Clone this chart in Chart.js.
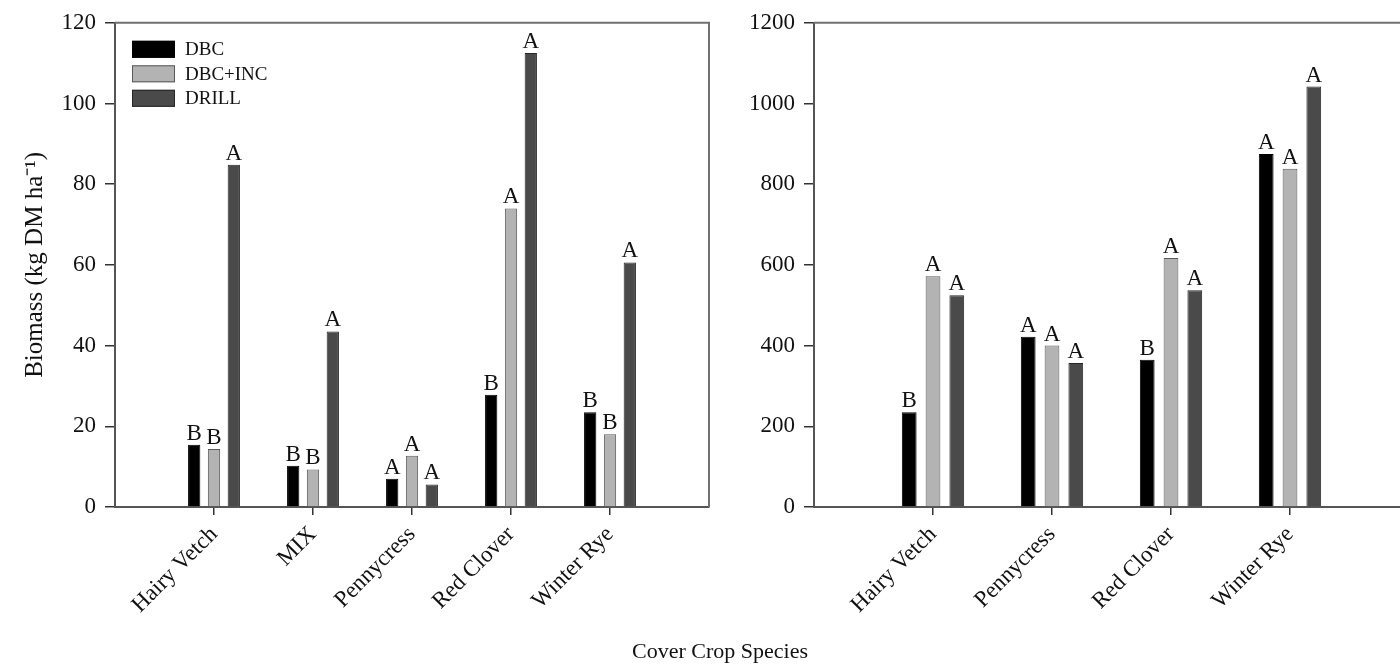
<!DOCTYPE html>
<html>
<head>
<meta charset="utf-8">
<script src="https://cdn.jsdelivr.net/npm/chart.js"></script>
<style>
  body { margin: 0; background: #fff; width: 1400px; height: 668px; overflow: hidden; position: relative; font-family: "Liberation Serif", serif; }
  .box { position: absolute; top: 0; height: 640px; }
  #leftBox { left: 0; width: 740px; }
  #rightBox { left: 740px; width: 669px; }
  #xTitle { position: absolute; left: 0; width: 1440px; top: 638px; text-align: center; font-size: 22px; color: #111; }
</style>
</head>
<body>
<div id="leftBox" class="box"><canvas id="leftChart"></canvas></div>
<div id="rightBox" class="box"><canvas id="rightChart"></canvas></div>
<div id="xTitle">Cover Crop Species</div>
<script>
// categories
const leftSpecies = ['Hairy Vetch', 'MIX', 'Pennycress', 'Red Clover', 'Winter Rye'];
const rightSpecies = ['Hairy Vetch', 'Pennycress', 'Red Clover', 'Winter Rye'];
const methods = ['DBC', 'DBC+INC', 'DRILL'];

// left panel values
const leftDBC = [15.4, 10.2, 7.0, 27.8, 23.5];
const leftDBCINC = [14.4, 9.3, 12.7, 74, 18.0];
const leftDRILL = [84.8, 43.5, 5.6, 112.5, 60.6];
const leftLetters = [
  ['B', 'B', 'A', 'B', 'B'],
  ['B', 'B', 'A', 'A', 'B'],
  ['A', 'A', 'A', 'A', 'A']
];

// right panel values
const rightDBC = [235, 422, 365, 875];
const rightDBCINC = [572, 400, 617, 838];
const rightDRILL = [525, 357, 537, 1042];
const rightLetters = [
  ['B', 'A', 'B', 'A'],
  ['A', 'A', 'A', 'A'],
  ['A', 'A', 'A', 'A']
];

const leftTicks = [0, 20, 40, 60, 80, 100, 120];
const rightTicks = [0, 200, 400, 600, 800, 1000, 1200];

const FONT = '"Liberation Serif", "Times New Roman", serif';
const fills = ['#000000', '#b3b3b3', '#4a4a4a'];
const edges = ['#000000', '#5a5a5a', '#262626'];

function pts(vals) {
  return vals.map((v, i) => ({ x: i, y: v }));
}

function makeDatasets(series) {
  return series.map((vals, k) => ({
    label: methods[k],
    data: pts(vals),
    backgroundColor: fills[k],
    borderColor: edges[k],
    borderWidth: 1,
    categoryPercentage: 0.6,
    barPercentage: 0.62
  }));
}

// letters above bars, frame, legend
const extras = {
  id: 'extras',
  afterDatasetsDraw(chart, args, opts) {
    const ctx = chart.ctx;
    const a = chart.chartArea;
    ctx.save();
    ctx.font = '23px ' + FONT;
    ctx.fillStyle = '#111';
    ctx.textAlign = 'center';
    ctx.textBaseline = 'alphabetic';
    chart.data.datasets.forEach((ds, k) => {
      chart.getDatasetMeta(k).data.forEach((bar, i) => {
        ctx.fillText(opts.letters[k][i], bar.x, bar.y - 5);
      });
    });
    // frame
    ctx.strokeStyle = '#707070';
    ctx.lineWidth = 2;
    ctx.beginPath();
    ctx.moveTo(a.left, a.top);
    ctx.lineTo(a.right, a.top);
    if (opts.rightEdge) ctx.lineTo(a.right, a.bottom);
    ctx.stroke();
    // legend
    if (opts.legend) {
      ctx.font = '19px ' + FONT;
      ctx.textAlign = 'left';
      ctx.textBaseline = 'middle';
      chart.data.datasets.forEach((ds, k) => {
        const y = a.top + 26.5 + k * 24.5;
        ctx.fillStyle = ds.backgroundColor;
        ctx.fillRect(a.left + 17, y - 8.5, 43, 17);
        ctx.strokeStyle = ds.borderColor;
        ctx.lineWidth = 1;
        ctx.strokeRect(a.left + 17.5, y - 8, 42, 16);
        ctx.fillStyle = '#111';
        ctx.fillText(ds.label, a.left + 70, y + 1);
      });
    }
    ctx.restore();
  }
};

function makeChart(id, labels, series, letters, ticks, cfg) {
  return new Chart(document.getElementById(id), {
    type: 'bar',
    data: { datasets: makeDatasets(series) },
    options: {
      responsive: true,
      maintainAspectRatio: false,
      animation: false,
      layout: { padding: { top: 22, right: cfg.padRight, left: 0, bottom: 0 } },
      plugins: {
        legend: { display: false },
        tooltip: { enabled: false },
        extras: { letters: letters, legend: cfg.legend, rightEdge: cfg.rightEdge }
      },
      scales: {
        x: {
          type: 'linear',
          offset: false,
          min: -1,
          max: cfg.xMax,
          afterBuildTicks(scale) {
            scale.ticks = labels.map((l, i) => ({ value: i }));
          },
          afterFit(scale) { scale.height = 133; },
          grid: { display: true, offset: false, drawOnChartArea: false, tickLength: 8, color: '#333', lineWidth: 1.5 },
          border: { display: true, color: '#555', width: 2 },
          ticks: {
            autoSkip: false,
            minRotation: 45,
            maxRotation: 45,
            padding: 6,
            color: '#111',
            font: { family: FONT, size: 23 },
            callback: (v) => labels[v]
          }
        },
        y: {
          min: 0,
          max: ticks[ticks.length - 1],
          afterBuildTicks(scale) {
            scale.ticks = ticks.map(v => ({ value: v }));
          },
          afterFit(scale) { scale.width = cfg.yWidth; },
          grid: { display: true, drawOnChartArea: false, tickLength: 10, color: '#333', lineWidth: 1.5 },
          border: { display: true, color: '#555', width: 2 },
          ticks: {
            padding: 9,
            color: '#111',
            font: { family: FONT, size: 23 },
            callback: (v) => String(v)
          },
          title: {
            display: cfg.yTitle !== '',
            text: cfg.yTitle,
            color: '#111',
            font: { family: FONT, size: 25 },
            padding: { top: 20, bottom: 0 }
          }
        }
      }
    },
    plugins: [extras]
  });
}

makeChart('leftChart', leftSpecies, [leftDBC, leftDBCINC, leftDRILL], leftLetters, leftTicks,
  { padRight: 31, xMax: 5, yWidth: 115, legend: true, rightEdge: true, yTitle: 'Biomass (kg DM ha\u207B\u00B9)' });
makeChart('rightChart', rightSpecies, [rightDBC, rightDBCINC, rightDRILL], rightLetters, rightTicks,
  { padRight: 0, xMax: 4, yWidth: 74, legend: false, rightEdge: false, yTitle: '' });
</script>
</body>
</html>
